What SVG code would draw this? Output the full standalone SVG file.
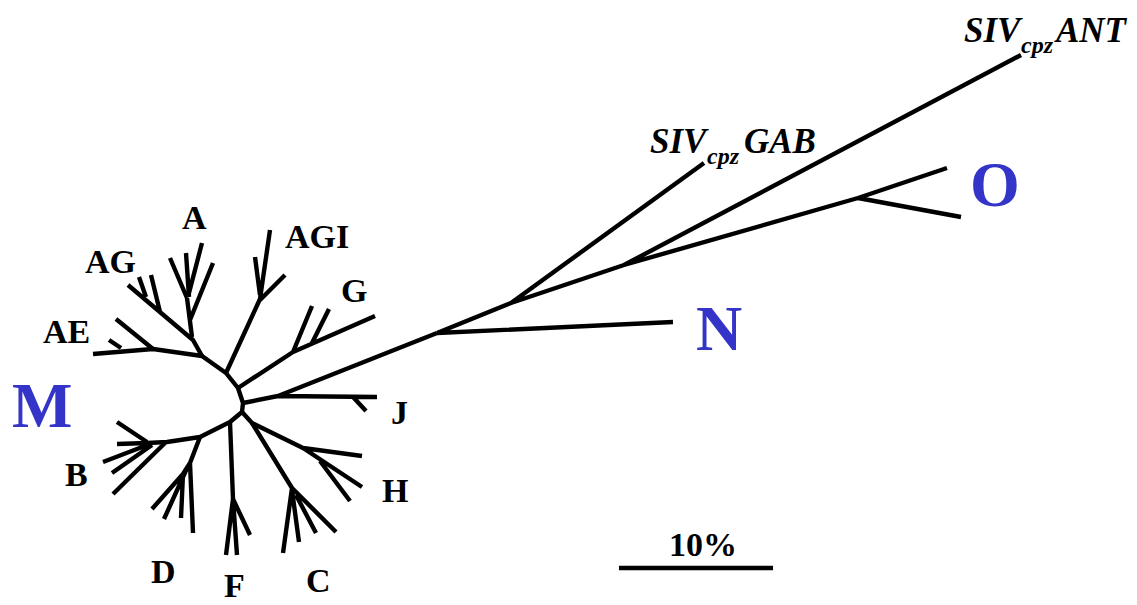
<svg xmlns="http://www.w3.org/2000/svg" width="1137" height="605" viewBox="0 0 1137 605">
<style>
.br{fill:none;stroke:#000;stroke-width:4.4;stroke-linejoin:round;stroke-linecap:butt}
.lb{font-family:"Liberation Serif","Times New Roman",serif;font-weight:bold;font-size:34px;fill:#000}
.big{font-family:"Liberation Serif","Times New Roman",serif;font-weight:bold;font-size:64px;fill:#3434c8}
.siv{font-family:"Liberation Serif","Times New Roman",serif;font-weight:bold;font-style:italic;font-size:35px;fill:#000}
.sub{font-size:24px}
</style>
<rect width="1137" height="605" fill="#fff"/>
<g id="connectors">
<path class="br" d="M93,354 L153,349 L202,356 L226,373 L238,388 L243,403 L242,412 L230,422 L200,437 L167,442 L147,443"/>
<path class="br" d="M109,340 L121,348 M116,319 L153,349"/>
<path class="br" d="M128,285 L193,340 L202,356 M139,277 L146,297 M151,275 L160,312"/>
<path class="br" d="M192,337 L187,298 M170,258 L187,298 M186,253 L189,297 M202,243 L189,293 M213,263 L190,320"/>
<path class="br" d="M226,373 L260,299 L270,230 M255,257 L260,295 M285,275 L260,300"/>
<path class="br" d="M238,388 L293,352 L375,316 M293,352 L312,306 M312,343 L329,309"/>
<path class="br" d="M243,403 L278,396 L437,333 M278,396 L377,397 M353,397 L366,411"/>
<path class="br" d="M117,422 L147,442 M117,444 L147,443 M103,462 L150,444 M112,473 L152,445 M113,494 L165,443"/>
<path class="br" d="M200,437 L190,463 L193,533 M188,466 L164,519 M190,463 L183,474 L152,509 M183,474 L181,518"/>
<path class="br" d="M230,422 L233,499 L226,555 M233,499 L237,555 M233,499 L250,535"/>
<path class="br" d="M242,412 L252,423 L303,448 L362,456 M303,448 L362,487 M320,461 L350,501"/>
<path class="br" d="M252,423 L292,488 L283,553 M292,490 L299,542 M296,495 L316,533 M292,488 L336,532"/>
<path class="br" d="M437,333 L673,322 M437,333 L511,303 L704,163 M511,303 L624,265 L1021,55 M624,265 L858,198 L947,168 M858,198 L961,217"/>
<path class="br" d="M619,568 L773,568"/>
</g>
<g id="label-M"><text class="big" x="12" y="427">M</text></g>
<g id="label-N"><text class="big" x="696" y="350">N</text></g>
<g id="label-O"><text class="big" x="970" y="206">O</text></g>
<g id="label-A"><text class="lb" x="182" y="229">A</text></g>
<g id="label-AG"><text class="lb" x="85" y="273">AG</text></g>
<g id="label-AE"><text class="lb" x="43" y="343">AE</text></g>
<g id="label-AGI"><text class="lb" x="285" y="248">AGI</text></g>
<g id="label-G"><text class="lb" x="341" y="302">G</text></g>
<g id="label-J"><text class="lb" x="391" y="424">J</text></g>
<g id="label-H"><text class="lb" x="382" y="502">H</text></g>
<g id="label-C"><text class="lb" x="306" y="592">C</text></g>
<g id="label-F"><text class="lb" x="224" y="597">F</text></g>
<g id="label-D"><text class="lb" x="151" y="583">D</text></g>
<g id="label-B"><text class="lb" x="65" y="486">B</text></g>
<g id="label-ANT"><text class="siv" x="964" y="42">SIV<tspan class="sub" x="1021" y="53">cpz</tspan><tspan x="1056" y="42">ANT</tspan></text></g>
<g id="label-GAB"><text class="siv" x="650" y="153">SIV<tspan class="sub" x="707" y="164">cpz</tspan><tspan x="744" y="153">GAB</tspan></text></g>
<g id="scale"><text class="lb" x="703" y="556" text-anchor="middle">10%</text></g>
</svg>
